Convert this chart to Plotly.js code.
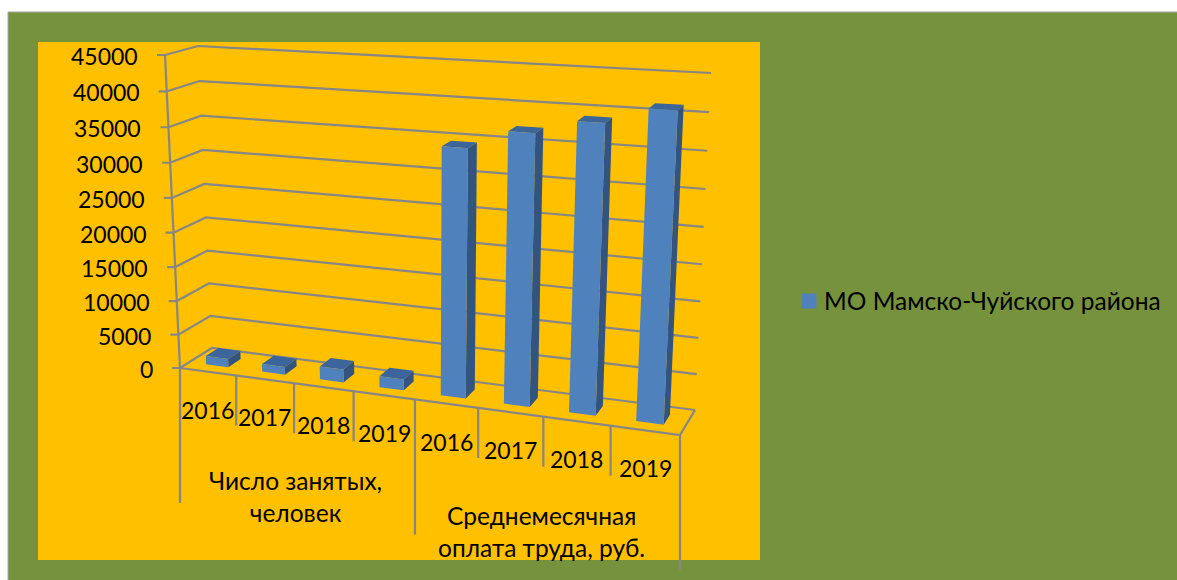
<!DOCTYPE html>
<html><head><meta charset="utf-8">
<script src="https://cdn.plot.ly/plotly-3.0.0.min.js"></script>
<style>html,body{margin:0;padding:0;background:#fff;overflow:hidden}</style></head>
<body><div id="chart" style="width:1177px;height:580px"></div>
<script>
const groups = ['Число занятых,<br>человек', 'Среднемесячная<br>оплата труда, руб.'];
const years = ['2016','2017','2018','2019','2016','2017','2018','2019'];
const values = [1240, 1140, 1890, 1575, 34570, 37180, 39100, 41300];
const valueTicks = [0,5000,10000,15000,20000,25000,30000,35000,40000,45000];
const seriesName = 'МО Мамско-Чуйского района';
const vMax = 45000;
const FONT = 'Lato, "Open Sans", sans-serif';
const digitSize = 23, textSize = 24.5;

// box corners on the picture: [front/back][left/right][bottom/top]
const C = {
  fl0:[180,368], flm:[165,55], fr0:[680,435], frm:[697,86],
  bl0:[212,348], blm:[198,46], br0:[695,410], brm:[711,73]
};
const mix=(a,b,k)=>[a[0]+(b[0]-a[0])*k,a[1]+(b[1]-a[1])*k];
// t along categories 0..1, d depth 0..1, v value; both t and v carry perspective foreshortening
function P(t,d,v){
  const s=t/(t+(1-t)*1.128);
  const q=v/vMax, k=q/(q+(1-q)*1.05);
  const f=mix(mix(C.fl0,C.fr0,s),mix(C.flm,C.frm,s),k);
  const b=mix(mix(C.bl0,C.br0,s),mix(C.blm,C.brm,s),k);
  return mix(f,b,d);
}
function poly(list){
  const x=[],y=[];
  list.forEach(pts=>{pts.forEach(p=>{x.push(p[0]);y.push(p[1]);});x.push(null);y.push(null);});
  return {x,y};
}
const traces=[];
const lineC='#868686', lineW=2.2;
function lines(list,w){const q=poly(list);traces.push({x:q.x,y:q.y,mode:'lines',line:{color:lineC,width:w||lineW},hoverinfo:'skip',showlegend:false,connectgaps:false});}

// gridlines: tick + side wall + back wall
lines(valueTicks.map(v=>{const a=P(0,0,v);return [[a[0]-8,a[1]],a,P(0,1,v),P(1,1,v)];}));
// floor + value axis
lines([[P(0,0,0),P(1,0,0),P(1,1,0)],[P(0,0,0),P(0,0,vMax)]]);
// category ticks
const n=years.length;
const shortTick=50, longTick=135;
lines(years.map((_,i)=>i).concat([n]).map(i=>{
  const p=P(i/n,0,0), big=i%4===0;
  return [p,[p[0],p[1]+(big?longTick:shortTick)]];
}));

// bars
const w=0.4, d0=0.3, d1=0.7;
const tops=[],sides=[],fronts=[];
values.forEach((v,i)=>{
  const a=(i+0.5-w/2)/n,b=(i+0.5+w/2)/n;
  tops.push([P(a,d0,v),P(b,d0,v),P(b,d1,v),P(a,d1,v),P(a,d0,v)]);
  sides.push([P(b,d0,0),P(b,d1,0),P(b,d1,v),P(b,d0,v),P(b,d0,0)]);
  fronts.push([P(a,d0,0),P(b,d0,0),P(b,d0,v),P(a,d0,v),P(a,d0,0)]);
});
function faces(list,color,name){
  const q=poly(list);
  traces.push({x:q.x,y:q.y,mode:'lines',fill:'toself',fillcolor:color,line:{width:0,color:color},name:name,showlegend:false,hoverinfo:'skip'});
}
faces(sides,'#33547F','side');
faces(tops,'#3B659B','top');
faces(fronts,'#4F81BD','front');
// legend key
traces.push({x:[null],y:[null],mode:'markers',name:seriesName,marker:{symbol:'square',size:15,color:'#4F81BD'},showlegend:true});

const annotations=[];
const txt=(x,y,text,anchor,size)=>annotations.push({xref:'x',yref:'y',x,y,text,showarrow:false,xanchor:anchor||'center',yanchor:'middle',font:{family:FONT,size:size,color:'#000'},align:'center'});
valueTicks.forEach(v=>{const p=P(0,0,v);txt(p[0]-25,p[1]+1,String(v),'right',digitSize);});
years.forEach((y,i)=>{const p=P((i+0.5)/n,0,0);txt(p[0],p[1]+38,y,'center',digitSize);});
txt(295,496,groups[0],'center',textSize);
txt(541,531,groups[1],'center',textSize);

const layout={
  width:1177,height:580,margin:{l:0,r:0,t:0,b:0},
  paper_bgcolor:'#fff',plot_bgcolor:'rgba(0,0,0,0)',
  xaxis:{range:[0,1177],visible:false,fixedrange:true},
  yaxis:{range:[580,0],visible:false,fixedrange:true},
  showlegend:true,
  legend:{x:789/1177,xanchor:'left',y:1-301/580,yanchor:'middle',bgcolor:'rgba(0,0,0,0)',font:{family:FONT,size:textSize,color:'#000'},itemwidth:30},
  shapes:[
    {type:'rect',xref:'x',yref:'y',x0:8,x1:1178,y0:12,y1:581,fillcolor:'#76923C',line:{color:'#A6A6A6',width:1},layer:'below'},
    {type:'rect',xref:'x',yref:'y',x0:38,x1:760,y0:42,y1:560,fillcolor:'#FFC000',line:{width:0},layer:'below'}
  ],
  annotations
};
Plotly.newPlot('chart',traces,layout,{displayModeBar:false,staticPlot:true}).then(()=>{
  const t=document.querySelector('.legend .legendtext');
  if(t) t.setAttribute('x',String(parseFloat(t.getAttribute('x'))-5));
});
</script></body></html>
